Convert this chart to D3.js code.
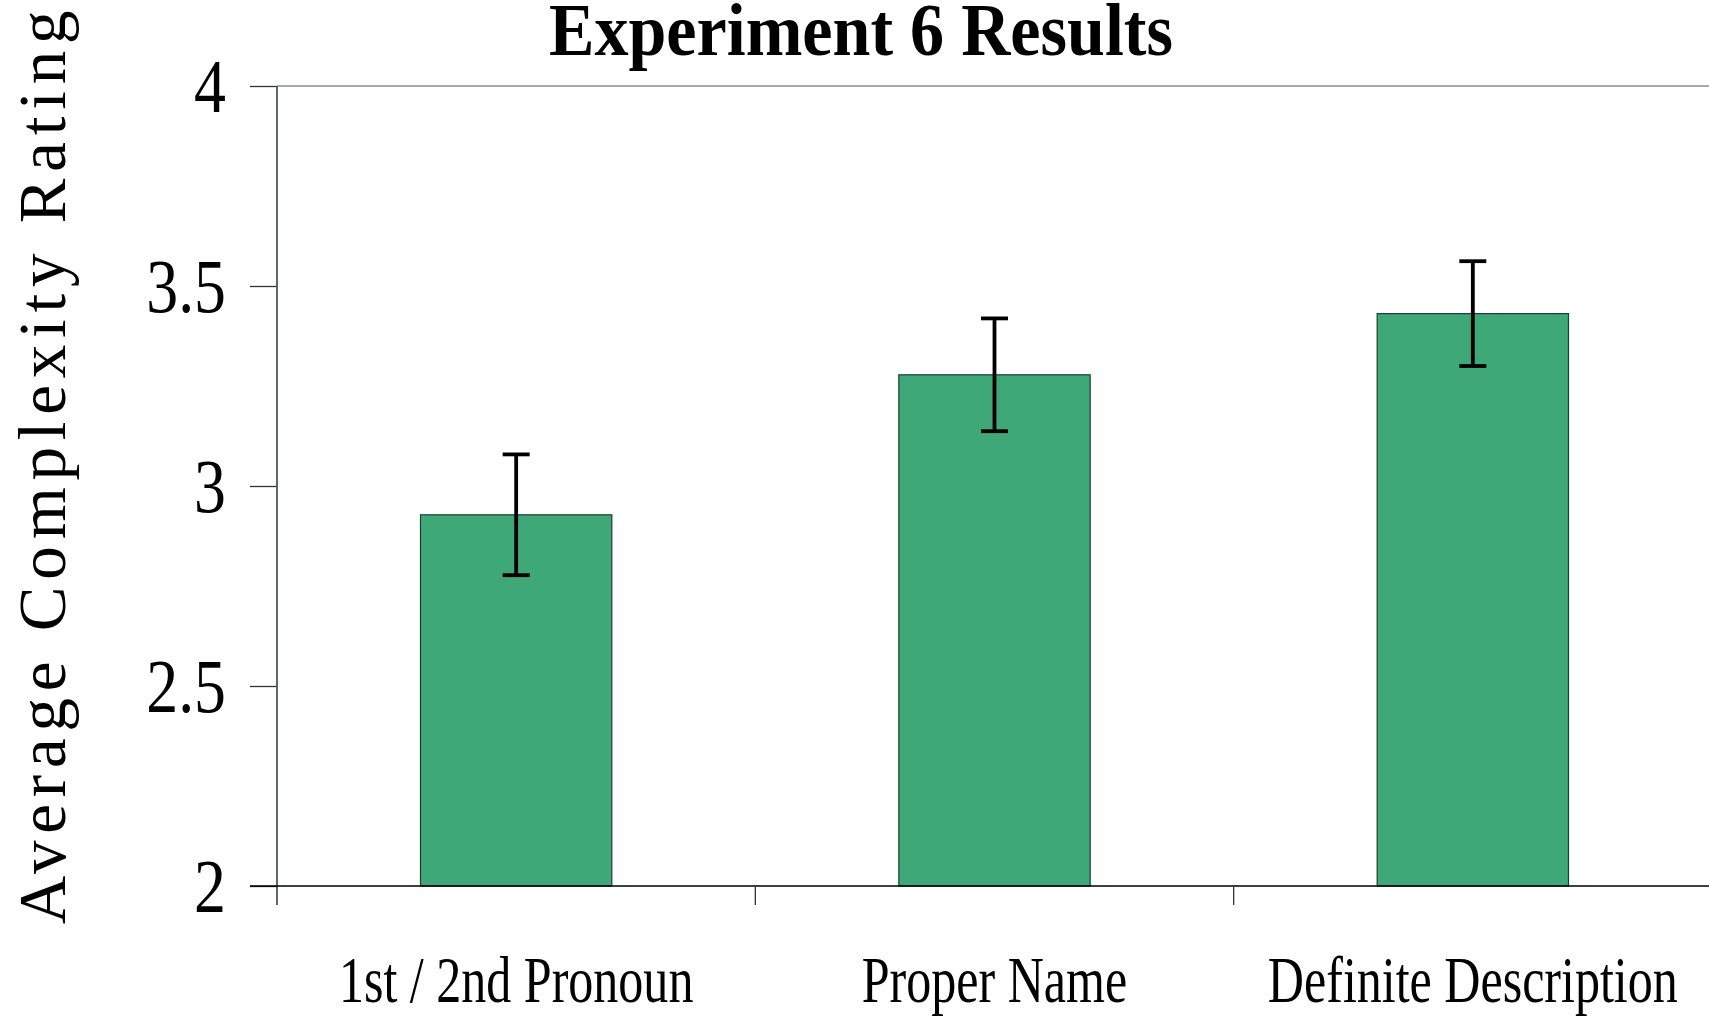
<!DOCTYPE html>
<html>
<head>
<meta charset="utf-8">
<script src="https://cdn.jsdelivr.net/npm/d3@7"></script>
<style>
  html, body { margin: 0; padding: 0; background: #fff; }
  svg { display: block; }
  text { font-family: "Liberation Serif", "Times New Roman", serif; fill: #000; }
</style>
</head>
<body>
<svg id="chart" width="1709" height="1018"></svg>
<script>
// ---- data ----
const categories = ["1st / 2nd Pronoun", "Proper Name", "Definite Description"];
const means = [2.928, 3.278, 3.431];
const errors = [0.151, 0.141, 0.131];
const yTicks = [2, 2.5, 3, 3.5, 4];
const yTickLabels = ["2", "2.5", "3", "3.5", "4"];
const titleText = "Experiment 6 Results";
const yLabelText = "Average Complexity Rating";

// ---- layout ----
const W = 1709, H = 1018;
const plot = { left: 277, right: 1712, top: 86, bottom: 886 };

const svg = d3.select("#chart");

const x = d3.scaleBand().domain(categories).range([plot.left, plot.right]).padding(0);
const y = d3.scaleLinear().domain([2, 4]).range([plot.bottom, plot.top]);

// top gridline at max
svg.append("line")
  .attr("x1", plot.left).attr("x2", W)
  .attr("y1", y(4)).attr("y2", y(4))
  .attr("stroke", "#a8a8a8").attr("stroke-width", 2);

// bars
const barW = x.bandwidth() * 0.4;
svg.append("g").selectAll("rect").data(categories).join("rect")
  .attr("x", (d) => x(d) + x.bandwidth() / 2 - barW / 2)
  .attr("y", (d, i) => y(means[i]))
  .attr("width", barW)
  .attr("height", (d, i) => y(2) - y(means[i]))
  .attr("fill", "#3ea878")
  .attr("stroke", "#1e3d30")
  .attr("stroke-width", 1.2);

// error bars
const capW = 27;
const eg = svg.append("g").attr("stroke", "#000").attr("stroke-width", 3.8);
categories.forEach((c, i) => {
  const cx = x(c) + x.bandwidth() / 2;
  eg.append("line").attr("x1", cx).attr("x2", cx)
    .attr("y1", y(means[i] + errors[i])).attr("y2", y(means[i] - errors[i]));
  eg.append("line").attr("x1", cx - capW / 2).attr("x2", cx + capW / 2)
    .attr("y1", y(means[i] + errors[i])).attr("y2", y(means[i] + errors[i]));
  eg.append("line").attr("x1", cx - capW / 2).attr("x2", cx + capW / 2)
    .attr("y1", y(means[i] - errors[i])).attr("y2", y(means[i] - errors[i]));
});

// y axis
const tickLen = 27;
const yAxis = d3.axisLeft(y).tickValues(yTicks).tickSize(tickLen).tickSizeOuter(0)
  .tickFormat((d, i) => yTickLabels[i]);
const yg = svg.append("g").attr("transform", `translate(${plot.left},0)`).call(yAxis);
yg.select(".domain").remove();
yg.selectAll(".tick line").attr("stroke", "#333").attr("stroke-width", 1.3);
const tickScale = 0.84;
yg.selectAll(".tick text")
  .attr("font-size", 76)
  .attr("font-family", "Liberation Serif, serif")
  .attr("fill", "#000")
  .attr("text-anchor", "end")
  .attr("x", -51 / tickScale)
  .attr("dy", "0.34em")
  .attr("transform", `scale(${tickScale},1)`);

// left axis line (extends below baseline)
svg.append("line")
  .attr("x1", plot.left).attr("x2", plot.left)
  .attr("y1", plot.top).attr("y2", plot.bottom + 19)
  .attr("stroke", "#4a5a56").attr("stroke-width", 1.8);

// bottom axis line
svg.append("line")
  .attr("x1", plot.left - tickLen).attr("x2", W)
  .attr("y1", plot.bottom).attr("y2", plot.bottom)
  .attr("stroke", "#000").attr("stroke-width", 1.6);

// category boundary ticks
svg.append("g").selectAll("line").data(categories.slice(1)).join("line")
  .attr("x1", (d) => x(d)).attr("x2", (d) => x(d))
  .attr("y1", plot.bottom).attr("y2", plot.bottom + 19)
  .attr("stroke", "#333").attr("stroke-width", 1.3);

// category labels
const xScaleText = 0.77;
svg.append("g").selectAll("text").data(categories).join("text")
  .attr("text-anchor", "middle")
  .attr("font-size", 65)
  .attr("transform", (d) => `translate(${x(d) + x.bandwidth() / 2},1002) scale(${xScaleText},1)`)
  .text((d) => d);

// title
svg.append("text")
  .attr("text-anchor", "middle")
  .attr("font-size", 74)
  .attr("font-weight", "bold")
  .attr("transform", "translate(861,55) scale(0.92,1)")
  .text(titleText);

// y axis label
svg.append("text")
  .attr("text-anchor", "middle")
  .attr("font-size", 67)
  .attr("letter-spacing", "6.8px")
  .attr("transform", "translate(65,464) rotate(-90)")
  .text(yLabelText);
</script>
</body>
</html>
